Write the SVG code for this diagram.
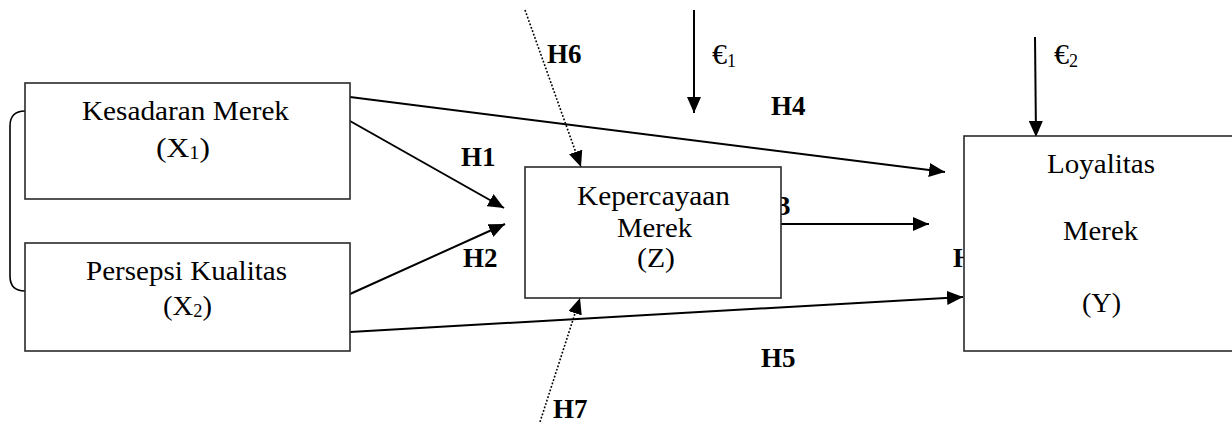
<svg xmlns="http://www.w3.org/2000/svg" width="1232" height="422" viewBox="0 0 1232 422">
  <style>
    .box { fill: #ffffff; stroke: #2a2a2a; stroke-width: 1.6; }
    .lbl { font-family: "Liberation Serif", "Times New Roman", serif; font-size: 28px; fill: #000; text-anchor: middle; }
    .h { font-family: "Liberation Serif", "Times New Roman", serif; font-size: 27px; font-weight: bold; fill: #000; }
    .eps { font-family: "Liberation Serif", "Times New Roman", serif; font-size: 30px; fill: #000; }
    .sub { font-size: 18px; }
    .arr { fill: none; stroke: #000; stroke-width: 2; marker-end: url(#ah); }
    .dot { fill: none; stroke: #000; stroke-width: 1.6; stroke-dasharray: 1.8 1.8; marker-end: url(#ah); }
    .brk { fill: none; stroke: #000; stroke-width: 1.6; }
  </style>
  <defs>
    <marker id="ah" markerUnits="userSpaceOnUse" markerWidth="17" markerHeight="14" refX="16" refY="7" orient="auto">
      <path d="M0,0 L16,7 L0,14 z" fill="#000"/>
    </marker>
  </defs>

  <!-- labels partially hidden behind boxes -->
  <g id="hidden-labels">
    <text class="h" x="756" y="215">H3</text>
    <text class="h" x="953" y="267">H</text>
  </g>

  <g id="connectors">
    <path class="brk" d="M25,111 Q10,111 10,126 L10,276 Q10,291 25,291"/>
    <line class="arr" x1="350" y1="97" x2="945" y2="172"/>
    <line class="arr" x1="350" y1="121" x2="504" y2="208"/>
    <line class="arr" x1="350" y1="294" x2="505" y2="224"/>
    <line class="arr" x1="350" y1="332" x2="963" y2="297"/>
    <line class="arr" x1="781" y1="224" x2="929" y2="224"/>
    <line class="arr" x1="694" y1="10" x2="694" y2="113"/>
    <line class="arr" x1="1035" y1="37" x2="1036" y2="137"/>
    <line class="dot" x1="525" y1="10" x2="581" y2="167"/>
    <line class="dot" x1="540" y1="422" x2="580" y2="298"/>
    <text class="h" x="461" y="166">H1</text>
    <text class="h" x="463" y="267">H2</text>
    <text class="h" x="771" y="115">H4</text>
    <text class="h" x="761" y="367">H5</text>
    <text class="h" x="547" y="63">H6</text>
    <text class="h" x="553" y="418">H7</text>
    <text class="eps" x="712" y="64">€<tspan class="sub" dy="3">1</tspan></text>
    <text class="eps" x="1054" y="64">€<tspan class="sub" dy="3">2</tspan></text>
  </g>

  <g id="node-x1">
    <rect class="box" x="25" y="83" width="325" height="116"/>
    <text class="lbl" x="185.5" y="120" textLength="207" lengthAdjust="spacingAndGlyphs">Kesadaran Merek</text>
    <text class="lbl" x="183" y="157" textLength="54" lengthAdjust="spacingAndGlyphs">(X<tspan class="sub" dy="2">1</tspan><tspan dy="-2">)</tspan></text>
  </g>

  <g id="node-x2">
    <rect class="box" x="25" y="243" width="325" height="108"/>
    <text class="lbl" x="186.5" y="280" textLength="201" lengthAdjust="spacingAndGlyphs">Persepsi Kualitas</text>
    <text class="lbl" x="187.5" y="315" textLength="49" lengthAdjust="spacingAndGlyphs">(X<tspan class="sub" dy="2">2</tspan><tspan dy="-2">)</tspan></text>
  </g>

  <g id="node-z">
    <rect class="box" x="525" y="167" width="256" height="131"/>
    <text class="lbl" x="653.5" y="205" textLength="153" lengthAdjust="spacingAndGlyphs">Kepercayaan</text>
    <text class="lbl" x="654.5" y="237" textLength="75" lengthAdjust="spacingAndGlyphs">Merek</text>
    <text class="lbl" x="656" y="267" textLength="38" lengthAdjust="spacingAndGlyphs">(Z)</text>
  </g>

  <g id="node-y">
    <rect class="box" x="964" y="136" width="300" height="215"/>
    <text class="lbl" x="1101" y="173" textLength="108" lengthAdjust="spacingAndGlyphs">Loyalitas</text>
    <text class="lbl" x="1100.5" y="240" textLength="75" lengthAdjust="spacingAndGlyphs">Merek</text>
    <text class="lbl" x="1101.5" y="312" textLength="39" lengthAdjust="spacingAndGlyphs">(Y)</text>
  </g>
</svg>
